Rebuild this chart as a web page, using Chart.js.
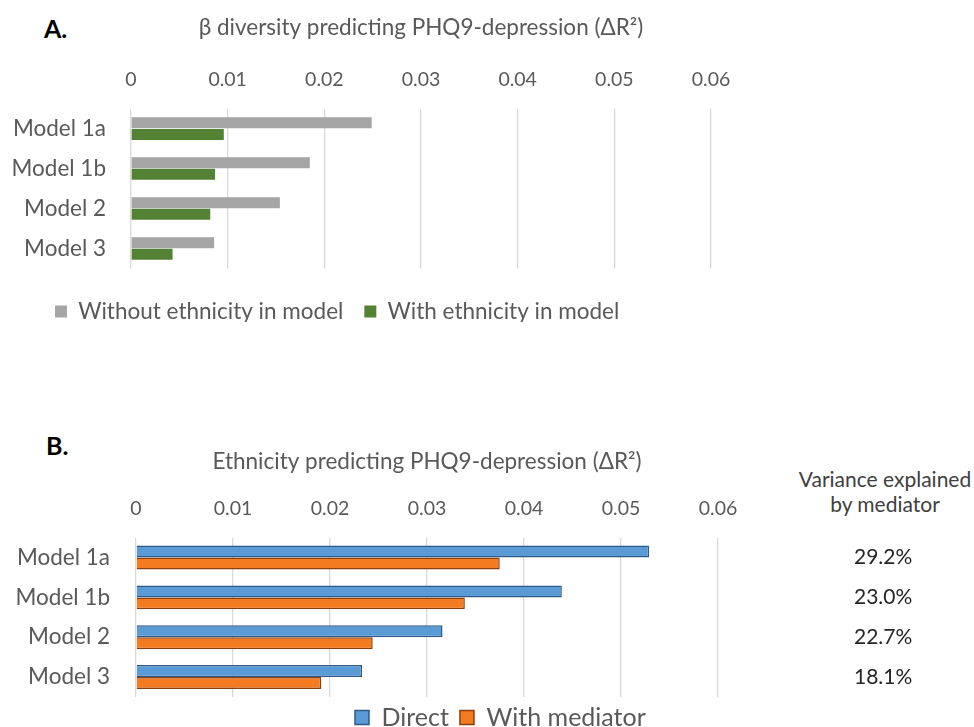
<!DOCTYPE html>
<html>
<head>
<meta charset="utf-8">
<script src="https://cdn.jsdelivr.net/npm/chart.js@4.4.1/dist/chart.umd.min.js"></script>
<style>
  html, body { margin: 0; padding: 0; background: #fff; overflow: hidden; }
  body { width: 974px; height: 727px; position: relative; font-family: Lato, "Noto Sans", sans-serif; }
  .panel { position: absolute; left: 0; width: 974px; }
  #boxA { top: 0; height: 322px; }
  #boxB { top: 430px; height: 313px; }
  .tag { position: absolute; font-weight: bold; font-size: 25px; color: #000; }
  #note { position: absolute; left: 790px; top: 466px; width: 190px; text-align: center;
          font-size: 21px; line-height: 25px; color: #404040; }
</style>
</head>
<body>
<div class="tag" style="left:44px; top:13px;">A.</div>
<div class="tag" style="left:46px; top:430px;">B.</div>
<div id="note">Variance explained<br>by mediator</div>
<div class="panel" id="boxA"><canvas id="chartA"></canvas></div>
<div class="panel" id="boxB"><canvas id="chartB"></canvas></div>
<script>
const models = ["Model 1a", "Model 1b", "Model 2", "Model 3"]
const xTicks = [0, 0.01, 0.02, 0.03, 0.04, 0.05, 0.06]

// panel A: beta diversity
const withoutEthnicity = [0.0249, 0.0185, 0.0154, 0.0086]
const withEthnicity = [0.0096, 0.0087, 0.0082, 0.0043]

// panel B: ethnicity, direct vs mediated
const direct = [0.0529, 0.0439, 0.0316, 0.0233]
const withMediator = [0.0375, 0.0339, 0.0244, 0.0191]
const varianceExplained = ["29.2%", "23.0%", "22.7%", "18.1%"]

Chart.defaults.font.family = "Lato, 'Noto Sans', sans-serif"
Chart.defaults.color = "#595959"
Chart.defaults.animation = false

const grey = "#595959"

// nudges the legend box after layout (Excel put it off-centre)
const legendOffset = {
  id: "legendOffset",
  afterLayout(chart, args, opts) {
    const lg = chart.legend
    if (!lg) return
    lg.left += opts.x || 0
    lg.right += opts.x || 0
    lg.top += opts.y || 0
    lg.bottom += opts.y || 0
  },
}

const valueAxis = () => ({
  type: "linear",
  position: "top",
  min: xTicks[0],
  max: xTicks[xTicks.length - 1],
  afterBuildTicks: (s) => { s.ticks = xTicks.map((v) => ({ value: v })) },
  ticks: { padding: 17.6, font: { size: 19.5 }, color: grey },
  grid: { color: "#d9d9d9", lineWidth: 1.3, drawTicks: false },
  border: { display: false },
})

const chartA = new Chart(document.getElementById("chartA"), {
  type: "bar",
  data: {
    labels: models,
    datasets: [
      { label: "Without ethnicity in model", data: withoutEthnicity, backgroundColor: "#a5a5a5" },
      { label: "With ethnicity in model", data: withEthnicity, backgroundColor: "#548235" },
    ],
  },
  plugins: [legendOffset],
  options: {
    indexAxis: "y",
    responsive: true,
    maintainAspectRatio: false,
    categoryPercentage: 0.58,
    barPercentage: 0.95,
    layout: { padding: { left: 0, right: 263, top: 0, bottom: 0 } },
    scales: {
      x: valueAxis(),
      y: {
        grid: { display: false },
        border: { display: false },
        ticks: { padding: 17, font: { size: 22.5 }, color: grey },
        afterFit: (s) => { s.width = 131 },
      },
    },
    plugins: {
      title: {
        display: true,
        fullSize: false,
        text: "β diversity predicting PHQ9-depression (ΔR²)",
        font: { size: 22.5, weight: "normal" },
        color: grey,
        padding: { top: 14.5, bottom: 8.5 },
      },
      legend: {
        position: "bottom",
        align: "start",
        labels: { boxWidth: 12, boxHeight: 12, padding: 21, font: { size: 22.5 }, color: grey },
      },
      legendOffset: { x: 34, y: 10.7 },
      tooltip: { enabled: false },
    },
  },
})

const chartB = new Chart(document.getElementById("chartB"), {
  type: "bar",
  data: {
    labels: models,
    datasets: [
      { label: "Direct", data: direct, backgroundColor: "#5b9bd5", borderColor: "#2e5b8a", borderWidth: 1.5 },
      { label: "With mediator", data: withMediator, backgroundColor: "#f47b20", borderColor: "#8a3f0c", borderWidth: 1.5 },
    ],
  },
  plugins: [legendOffset],
  options: {
    indexAxis: "y",
    responsive: true,
    maintainAspectRatio: false,
    categoryPercentage: 0.6,
    barPercentage: 1.0,
    layout: { padding: { left: 0, right: 0, top: 0, bottom: 0 } },
    scales: {
      x: valueAxis(),
      y: {
        grid: { display: false },
        border: { display: false },
        ticks: { padding: 18, font: { size: 22.5 }, color: grey },
        afterFit: (s) => { s.width = 136 },
      },
      // percentages column on the right, one per model
      y2: {
        type: "category",
        labels: varianceExplained,
        position: "right",
        offset: true,
        grid: { display: true, drawOnChartArea: false, tickLength: 136, color: "rgba(0,0,0,0)" },
        border: { display: false },
        ticks: { padding: 0, crossAlign: "center", font: { size: 21 }, color: "#262626" },
        afterFit: (s) => { s.width = 256 },
      },
    },
    plugins: {
      title: {
        display: true,
        fullSize: false,
        text: "Ethnicity predicting PHQ9-depression (ΔR²)",
        font: { size: 22.5, weight: "normal" },
        color: grey,
        padding: { top: 18.5, bottom: 3.5 },
      },
      legend: {
        position: "bottom",
        align: "start",
        labels: { boxWidth: 14, boxHeight: 14, padding: 11, font: { size: 25 }, color: grey },
      },
      legendOffset: { x: 344, y: -3 },
      tooltip: { enabled: false },
    },
  },
})
</script>
</body>
</html>
